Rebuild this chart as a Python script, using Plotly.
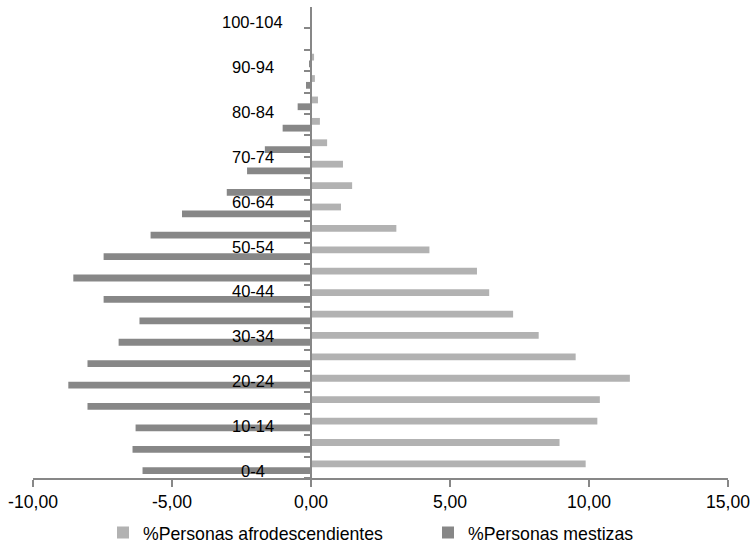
import plotly.graph_objects as go

# ---- data ----
age_groups = ["0-4", "5-9", "10-14", "15-19", "20-24", "25-29", "30-34", "35-39",
              "40-44", "45-49", "50-54", "55-59", "60-64", "65-69", "70-74", "75-79",
              "80-84", "85-89", "90-94", "95-99", "100-104"]
afro = [9.88, 8.94, 10.30, 10.39, 11.47, 9.52, 8.19, 7.27, 6.41, 5.97, 4.26, 3.07,
        1.08, 1.48, 1.15, 0.58, 0.32, 0.25, 0.14, 0.11, 0.0]
mestizas = [-6.06, -6.42, -6.31, -8.04, -8.73, -8.04, -6.92, -6.17, -7.46, -8.55, -7.46,
            -5.77, -4.64, -3.03, -2.30, -1.66, -1.02, -0.48, -0.18, -0.07, 0.0]
label_groups = age_groups[::2]
x_tick_vals = [-10, -5, 0, 5, 10, 15]
x_tick_labels = ["-10,00", "-5,00", "0,00", "5,00", "10,00", "15,00"]

FONT = "Liberation Sans, Arial, sans-serif"
AXIS = "#878787"
LIGHT = "#b2b2b2"
DARK = "#878787"

W, H = 750, 546
ml, mr, mt, mb = 33, 22, 7, 68
x_min, x_max = -10, 15

fig = go.Figure()
fig.add_trace(go.Bar(y=age_groups, x=mestizas, orientation="h", name="%Personas mestizas",
                     marker=dict(color=DARK, line=dict(width=0)), legendrank=2))
fig.add_trace(go.Bar(y=age_groups, x=afro, orientation="h", name="%Personas afrodescendientes",
                     marker=dict(color=LIGHT, line=dict(width=0)), legendrank=1,
                     legendwidth=280))

n = len(age_groups)
n_slots = n + 1
annotations = []
for i, g in enumerate(age_groups):
    if g not in label_groups:
        continue
    annotations.append(dict(
        x=0, xref="x", y=-0.5 + (i + 0.5) * n_slots / n, yref="y",
        text=g, showarrow=False, xanchor="center", yanchor="middle",
        xshift=-58.5, yshift=-4,
        font=dict(family=FONT, size=16.5, color="#000000")))

fig.update_layout(
    width=W, height=H,
    margin=dict(l=ml, r=mr, t=mt, b=mb, pad=0, autoexpand=False),
    paper_bgcolor="white", plot_bgcolor="white",
    barmode="group", bargap=0.365, bargroupgap=0,
    font=dict(family=FONT, size=17.6, color="#000000"),
    xaxis=dict(range=[x_min, x_max], tickvals=x_tick_vals, ticktext=x_tick_labels,
               showgrid=False, zeroline=False, showline=True, linecolor=AXIS, linewidth=2,
               ticks="outside", ticklen=7, tickwidth=1.5, tickcolor=AXIS,
               ticklabeloverflow="allow",
               tickfont=dict(family=FONT, size=17.6, color="#000000")),
    yaxis=dict(type="category", categoryorder="array", categoryarray=age_groups,
               range=[-0.5, n_slots - 0.5], tickson="boundaries",
               showticklabels=False, showgrid=False, zeroline=False,
               showline=True, linecolor=AXIS, linewidth=2,
               ticks="outside", ticklen=6, tickwidth=1.5, tickcolor=AXIS,
               anchor="free", position=(0 - x_min) / (x_max - x_min)),
    legend=dict(orientation="h", x=(103 - ml) / (W - ml - mr), xanchor="left",
                y=-0.117, yanchor="middle", font=dict(family=FONT, size=17.7),
                bgcolor="rgba(0,0,0,0)"),
    annotations=annotations,
    showlegend=True,
)

fig.write_html("out.html", config={"displayModeBar": False},
               post_script="document.body.style.margin='0';")
